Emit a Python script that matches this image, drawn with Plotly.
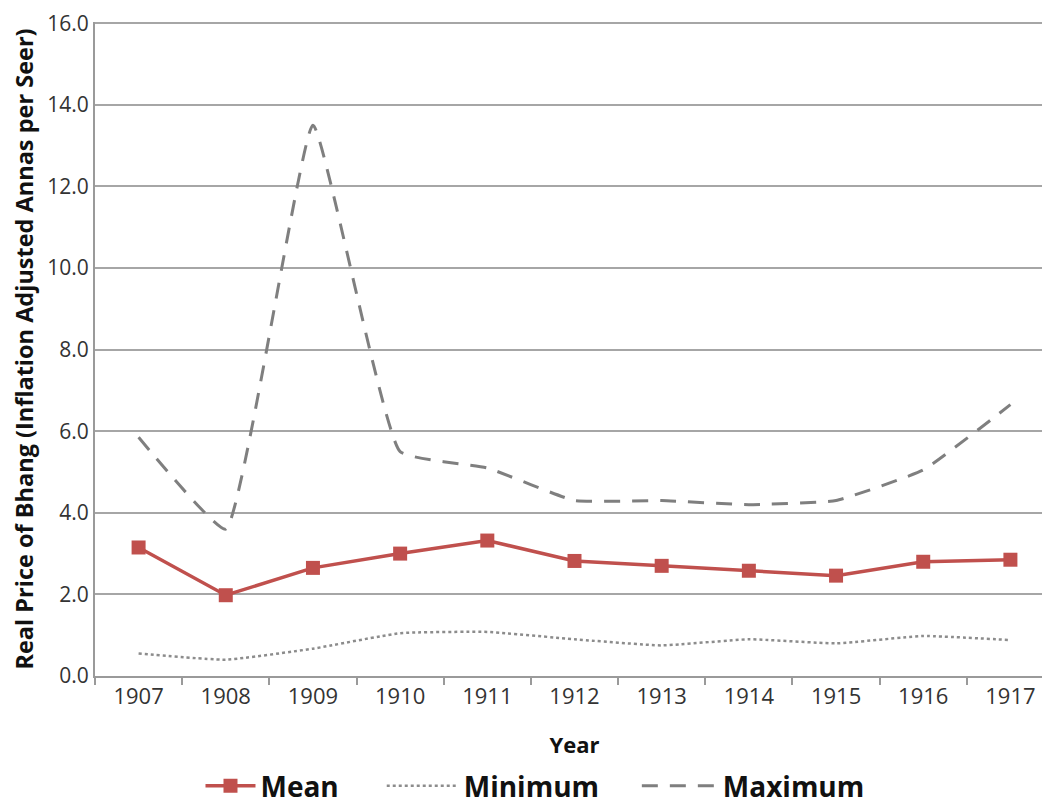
import plotly.graph_objects as go

years = ["1907", "1908", "1909", "1910", "1911", "1912", "1913", "1914", "1915", "1916", "1917"]
mean_vals = [3.15, 1.98, 2.65, 3.0, 3.32, 2.82, 2.7, 2.58, 2.46, 2.8, 2.85]
min_vals = [0.55, 0.4, 0.67, 1.05, 1.08, 0.9, 0.75, 0.9, 0.8, 0.98, 0.88]
max_vals = [5.85, 3.6, 13.5, 5.5, 5.1, 4.3, 4.3, 4.2, 4.3, 5.05, 6.65]
y_ticks = [0, 2, 4, 6, 8, 10, 12, 14, 16]

font_family = "Open Sans, Liberation Sans, sans-serif"
legend_font = dict(size=28, family=font_family, color="#111111", weight="bold")

fig = go.Figure()
fig.add_trace(go.Scatter(
    x=years, y=mean_vals, name="Mean", mode="lines+markers",
    line=dict(color="#c0504d", width=3.5),
    marker=dict(symbol="square", size=14, color="#c0504d"),
    legend="legend",
))
fig.add_trace(go.Scatter(
    x=years, y=min_vals, name="Minimum", mode="lines",
    line=dict(color="#8c8c8c", width=2.5, dash="dot", shape="spline", smoothing=0.4),
    legend="legend2",
))
fig.add_trace(go.Scatter(
    x=years, y=max_vals, name="Maximum", mode="lines",
    line=dict(color="#7f7f7f", width=3, dash="16px,12px", shape="spline", smoothing=0.35),
    legend="legend3",
))

leg_y = -0.13
fig.update_layout(
    width=1050, height=807,
    margin=dict(l=87, r=4, t=14, b=127),
    paper_bgcolor="white", plot_bgcolor="white",
    font=dict(family=font_family, color="#222222"),
    showlegend=True,
    legend=dict(orientation="h", x=0.11, xanchor="left", y=leg_y, yanchor="top",
                font=legend_font, itemwidth=50, bgcolor="rgba(0,0,0,0)"),
    legend2=dict(orientation="h", x=0.299, xanchor="left", y=leg_y, yanchor="top",
                 font=legend_font, itemwidth=72, bgcolor="rgba(0,0,0,0)"),
    legend3=dict(orientation="h", x=0.565, xanchor="left", y=leg_y, yanchor="top",
                 font=legend_font, itemwidth=76, bgcolor="rgba(0,0,0,0)"),
    xaxis=dict(
        type="category", automargin=False,
        title=dict(text="Year", font=dict(size=22, weight="bold", color="#111111"), standoff=28),
        tickfont=dict(size=22, color="#333333"),
        showline=True, linecolor="#9a9a9a", linewidth=2,
        ticks="outside", ticklen=7, tickcolor="#9a9a9a", tickwidth=2,
        tickson="boundaries", showgrid=False, range=[-0.5, 10.5],
    ),
    yaxis=dict(
        automargin=False,
        title=dict(text="Real Price of Bhang (Inflation Adjusted Annas per Seer)",
                   font=dict(size=23.5, weight="bold", color="#111111"), standoff=26),
        range=[0, 16.03], tickvals=y_ticks, tickformat=".1f",
        tickfont=dict(size=21, color="#333333"), ticklabeloverflow="allow",
        showgrid=True, gridcolor="#a6a6a6", gridwidth=2,
        showline=True, linecolor="#9a9a9a", linewidth=2,
        ticks="", zeroline=False,
    ),
)

fig.write_html("out.html")
